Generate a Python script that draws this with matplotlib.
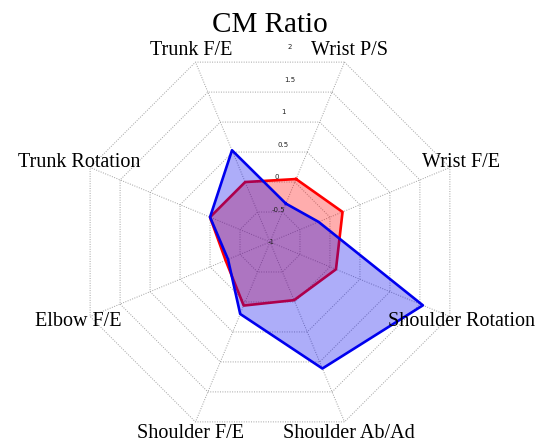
import numpy as np
import matplotlib
matplotlib.use('Agg')
import matplotlib.pyplot as plt

# spokes, clockwise starting just right of the top
labels = ['Wrist P/S', 'Wrist F/E', 'Shoulder Rotation', 'Shoulder Ab/Ad',
          'Shoulder F/E', 'Elbow F/E', 'Trunk Rotation', 'Trunk F/E']
red_vals = [0.05, 0.21, 0.10, -0.03, 0.06, -0.26, 0.0, 0.0]
blue_vals = [-0.36, -0.19, 1.55, 1.11, 0.20, -0.30, 0.0, 0.53]
ticks = [-1, -0.5, 0, 0.5, 1, 1.5, 2]
tick_labels = ['-1', '-0.5', '0', '0.5', '1', '1.5', '2']

vmin = ticks[0]
n = len(labels)
theta = np.deg2rad(22.5 + 45 * np.arange(n))

def xy(vals):
    r = np.asarray(vals, dtype=float) - vmin
    return r * np.sin(theta), r * np.cos(theta)

W, H = 542, 443
cx, cy, unit = 270.0, 242.0, 64.9   # pixel centre and pixels per unit

fig = plt.figure(figsize=(W / 100, H / 100), dpi=100)
ax = fig.add_axes([0, 0, 1, 1])
ax.set_xlim(-cx / unit, (W - cx) / unit)
ax.set_ylim(-(H - cy) / unit, cy / unit)
ax.axis('off')

grid_kw = dict(color='#a0a0a0', lw=0.7, ls=(0, (1, 1.5)), zorder=1)
for t in ticks[1:]:
    gx, gy = xy([t] * n)
    ax.plot(np.append(gx, gx[0]), np.append(gy, gy[0]), **grid_kw)
ox, oy = xy([ticks[-1]] * n)
for i in range(n):
    ax.plot([0, ox[i]], [0, oy[i]], **grid_kw)

# red first, blue (fill and line) on top of it
z = 2
for vals, col in [(red_vals, '#ff0000'), (blue_vals, '#0000ee')]:
    px, py = xy(vals)
    ax.fill(px, py, color=col, alpha=0.32, lw=0, zorder=z)
    ax.plot(np.append(px, px[0]), np.append(py, py[0]), color=col, lw=1.9, zorder=z + 1)
    z += 2

for t, tl in zip(ticks, tick_labels):
    r = t - vmin
    ax.text(-0.03 + 0.1 * r, r, tl, fontsize=5, ha='left', va='center',
            color='#222222', zorder=7)

serif = ['Liberation Serif', 'DejaVu Serif']
lx, ly = xy([3.19 + vmin] * n)
for i, lab in enumerate(labels):
    ax.text(lx[i], ly[i], lab, fontsize=14.5, family=serif,
            ha='center', va='center', zorder=8)

fig.text(269.5 / W, 1 - 25 / H, 'CM Ratio', fontsize=21, family=serif,
         ha='center', va='center')

fig.savefig('out.png', dpi=100)
